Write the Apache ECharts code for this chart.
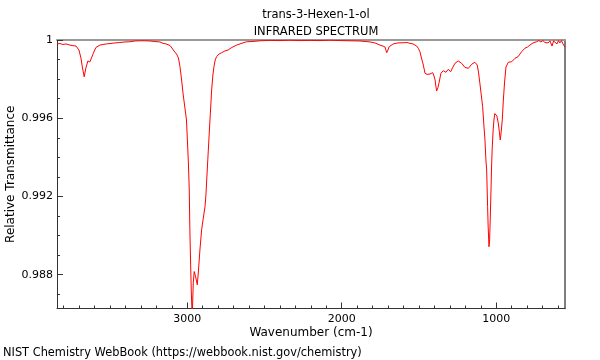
<!DOCTYPE html>
<html>
<head>
<meta charset="utf-8">
<script src="https://cdn.jsdelivr.net/npm/echarts@6/dist/echarts.min.js"></script>
<style>html,body{margin:0;padding:0;background:#fff;}#c{width:600px;height:360px;}</style>
</head>
<body>
<div id="c"></div>
<script>
const titleLines = ["trans-3-Hexen-1-ol", "INFRARED SPECTRUM"];
const footer = "NIST Chemistry WebBook (https://webbook.nist.gov/chemistry)";
const xName = "Wavenumber (cm-1)";
const yName = "Relative Transmittance";

const wavenumber = [3843,3824,3805,3785,3759,3740,3720,3701,3688,3678,3667,3656,3643,3630,3620,3608,3591,3565,3546,3522,3500,3468,3436,3403,3371,3338,3306,3274,3241,3209,3177,3157,3138,3112,3099,3086,3069,3057,3047,3038,3026,3015,3005,2999,2992,2987,2983,2978,2974,2968,2961,2955,2947,2935,2928,2918,2907,2896,2885,2879,2874,2867,2860,2851,2842,2834,2827,2819,2810,2795,2777,2756,2735,2711,2680,2652,2616,2581,2529,2465,2400,2335,2271,2206,2141,2076,2012,1947,1882,1817,1785,1753,1733,1720,1709,1701,1693,1667,1636,1602,1578,1559,1539,1515,1504,1494,1484,1472,1461,1448,1429,1411,1403,1396,1390,1386,1378,1371,1358,1343,1326,1311,1295,1280,1267,1246,1224,1203,1181,1159,1138,1123,1115,1106,1097,1088,1080,1073,1067,1062,1056,1052,1047,1043,1039,1034,1030,1026,1020,1015,1009,1002,996,987,979,974,968,961,954,946,937,922,911,900,889,879,858,847,836,814,798,782,762,739,724,711,698,685,675,665,652,639,629,620,607,597,588,578,568,562,555];
const transmittance = [0.99980,0.99982,0.99977,0.99980,0.99974,0.99971,0.99969,0.99949,0.99908,0.99857,0.99812,0.99857,0.99893,0.99888,0.99908,0.99932,0.99962,0.99974,0.99977,0.99980,0.99982,0.99985,0.99987,0.99990,0.99991,0.99995,0.99996,0.99996,0.99995,0.99992,0.99990,0.99983,0.99980,0.99972,0.99959,0.99944,0.99928,0.99908,0.99864,0.99806,0.99719,0.99652,0.99591,0.99489,0.99361,0.99233,0.99029,0.98850,0.98722,0.98579,0.98758,0.98816,0.98794,0.98748,0.98814,0.98926,0.99029,0.99090,0.99148,0.99208,0.99284,0.99387,0.99489,0.99617,0.99744,0.99821,0.99864,0.99898,0.99915,0.99928,0.99935,0.99944,0.99949,0.99962,0.99974,0.99982,0.99991,0.99992,0.99996,0.99998,0.99997,0.99999,0.99997,0.99998,0.99997,0.99999,0.99997,0.99996,0.99995,0.99990,0.99985,0.99974,0.99969,0.99964,0.99935,0.99949,0.99966,0.99980,0.99985,0.99986,0.99987,0.99983,0.99980,0.99969,0.99957,0.99940,0.99908,0.99872,0.99830,0.99824,0.99826,0.99833,0.99816,0.99796,0.99760,0.99739,0.99755,0.99779,0.99830,0.99843,0.99835,0.99850,0.99838,0.99862,0.99881,0.99893,0.99881,0.99860,0.99855,0.99876,0.99886,0.99872,0.99836,0.99779,0.99719,0.99659,0.99565,0.99489,0.99387,0.99335,0.99148,0.99039,0.98943,0.98978,0.99080,0.99233,0.99361,0.99448,0.99540,0.99591,0.99624,0.99627,0.99611,0.99576,0.99525,0.99489,0.99530,0.99591,0.99693,0.99785,0.99862,0.99886,0.99882,0.99889,0.99898,0.99906,0.99915,0.99928,0.99940,0.99958,0.99964,0.99974,0.99985,0.99991,0.99997,0.99990,0.99997,0.99987,0.99997,0.99985,0.99995,0.99969,0.99995,0.99997,0.99980,0.99997,0.99985,0.99997,0.99980,0.99990,0.99964];

const xMajorTicks = [1000, 2000, 3000];
const xMinorTicks = [600,700,800,900,1100,1200,1300,1400,1500,1600,1700,1800,1900,2100,2200,2300,2400,2500,2600,2700,2800,2900,3100,3200,3300,3400,3500,3600,3700,3800];
const yMajorTicks = [0.988, 0.992, 0.996, 1];
const yMinorTicks = [0.987,0.989,0.990,0.991,0.993,0.994,0.995,0.997,0.998,0.999];
const xRange = [555, 3843];
const yRange = [0.98627, 1];

const FONT = 'DejaVu Sans';
const AX = '#333';
const chart = echarts.init(document.getElementById('c'), null, {renderer: 'canvas'});
const data = wavenumber.map((w, i) => [w, transmittance[i]]);
const xBase = {type: 'value', inverse: true, min: xRange[0], max: xRange[1], splitLine: {show: false}};
const yBase = {type: 'value', min: yRange[0], max: yRange[1], splitLine: {show: false}};
chart.setOption({
  animation: false,
  backgroundColor: '#fff',
  title: [
    {text: titleLines.join('\n'), left: 311, top: 2, textAlign: 'center',
     textStyle: {fontFamily: FONT, fontSize: 11.5, fontWeight: 'normal', color: '#000', lineHeight: 17}},
    {text: footer, left: 3, top: 348, padding: 0,
     textStyle: {fontFamily: FONT, fontSize: 11.4, fontWeight: 'normal', color: '#000'}}
  ],
  grid: {left: 57, right: 35, top: 40, bottom: 51.5, containLabel: false, outerBoundsMode: 'none'},
  xAxis: [
    Object.assign({}, xBase, {
      position: 'bottom',
      name: xName, nameLocation: 'middle', nameGap: 18.5, nameMoveOverlap: false,
      nameTextStyle: {fontFamily: FONT, fontSize: 12, color: '#000'},
      axisLine: {show: true, onZero: false, lineStyle: {color: AX, width: 1}},
      axisTick: {show: true, inside: true, length: 6, customValues: xMajorTicks, lineStyle: {color: AX}},
      axisLabel: {show: true, customValues: xMajorTicks, margin: 5, fontFamily: FONT, fontSize: 11, color: '#000',
                  formatter: v => String(v)}
    }),
    Object.assign({}, xBase, {
      position: 'bottom',
      axisLine: {show: false, onZero: false},
      axisTick: {show: true, inside: true, length: 3, customValues: xMinorTicks, lineStyle: {color: AX}},
      axisLabel: {show: false}
    }),
    Object.assign({}, xBase, {
      position: 'top',
      axisLine: {show: true, onZero: false, lineStyle: {color: '#999', width: 2}},
      axisTick: {show: false},
      axisLabel: {show: false}
    })
  ],
  yAxis: [
    Object.assign({}, yBase, {
      position: 'left',
      name: yName, nameLocation: 'middle', nameGap: 40, nameRotate: 90, nameMoveOverlap: false,
      nameTextStyle: {fontFamily: FONT, fontSize: 12, color: '#000'},
      axisLine: {show: true, onZero: false, lineStyle: {color: AX, width: 1}},
      axisTick: {show: true, inside: true, length: 6, customValues: yMajorTicks, lineStyle: {color: AX}},
      axisLabel: {show: true, customValues: yMajorTicks, margin: 4, fontFamily: FONT, fontSize: 11, color: '#000',
                  formatter: v => String(v)}
    }),
    Object.assign({}, yBase, {
      position: 'left',
      axisLine: {show: false, onZero: false},
      axisTick: {show: true, inside: true, length: 3, customValues: yMinorTicks, lineStyle: {color: AX}},
      axisLabel: {show: false}
    }),
    Object.assign({}, yBase, {
      position: 'right',
      axisLine: {show: true, onZero: false, lineStyle: {color: '#555', width: 1.5}},
      axisTick: {show: false},
      axisLabel: {show: false}
    })
  ],
  series: [{
    type: 'line', data: data, xAxisIndex: 0, yAxisIndex: 0,
    showSymbol: false, symbol: 'none', clip: true,
    lineStyle: {color: '#ff0000', width: 1}
  }]
});
</script>
</body>
</html>
